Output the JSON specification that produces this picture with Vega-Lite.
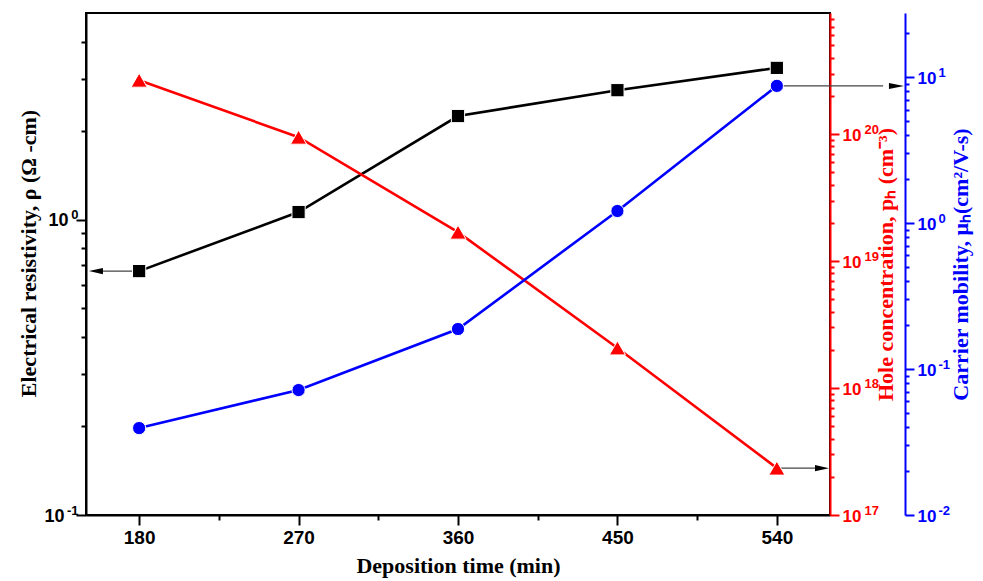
{
  "$schema": "https://vega.github.io/schema/vega-lite/v6.json",
  "width": 744,
  "height": 502,
  "autosize": {"type": "none"},
  "padding": {"left": 86, "top": 13, "right": 153, "bottom": 66},
  "background": "white",
  "config": {"view": {"stroke": "black", "strokeWidth": 2}},
  "datasets": {
    "black": [
      {"time": 180, "value": 0.669},
      {"time": 270, "value": 1.06},
      {"time": 360, "value": 2.24},
      {"time": 450, "value": 2.74},
      {"time": 540, "value": 3.26}
    ],
    "red": [
      {"time": 180, "value": 2.66e20},
      {"time": 270, "value": 9.46e19},
      {"time": 360, "value": 1.69e19},
      {"time": 450, "value": 2.07e18},
      {"time": 540, "value": 2.34e17}
    ],
    "blue": [
      {"time": 180, "value": 0.0394},
      {"time": 270, "value": 0.0718},
      {"time": 360, "value": 0.188},
      {"time": 450, "value": 1.21},
      {"time": 540, "value": 8.71}
    ],
    "arrowBlack": [{"time": 159.6, "time2": 180, "value": 0.669}],
    "headBlack": [{"time": 155.6, "value": 0.669}],
    "arrowRed": [{"time": 540, "time2": 561.5, "value": 2.34e17}],
    "headRed": [{"time": 565.5, "value": 2.34e17}],
    "arrowBlue": [{"time": 540, "time2": 600, "value": 8.71}],
    "headBlue": [{"time": 607.5, "value": 8.71}]
  },
  "encoding": {
    "x": {
      "field": "time",
      "type": "quantitative",
      "scale": {"domain": [150, 570], "nice": false, "zero": false},
      "axis": {
        "values": [180, 225, 270, 315, 360, 405, 450, 495, 540],
        "labelExpr": "datum.value % 90 == 0 ? datum.label : ''",
        "tickSize": {"condition": {"test": "datum.value % 90 == 0", "value": 10}, "value": 5},
        "tickWidth": 2,
        "tickColor": "black",
        "domainColor": "black",
        "domainWidth": 2,
        "grid": false,
        "labelFont": "Liberation Sans",
        "labelFontWeight": "bold",
        "labelFontSize": 19,
        "labelColor": "black",
        "labelPadding": 3,
        "title": "Deposition time (min)",
        "titleFont": "Liberation Serif",
        "titleFontSize": 22,
        "titleFontWeight": "bold",
        "titleColor": "black",
        "titlePadding": 8
      }
    }
  },
  "layer": [
    {
      "encoding": {
        "y": {
          "field": "value",
          "type": "quantitative",
          "scale": {"type": "log", "domain": [0.1, 5], "nice": false},
          "axis": {
            "orient": "left",
            "values": [0.1, 0.2, 0.3, 0.4, 0.5, 0.6, 0.7, 0.8, 0.9, 1, 2, 3, 4],
            "labelExpr": "datum.value == 1 || datum.value == 0.1 ? '10' : ''",
            "tickSize": {"condition": {"test": "datum.value == 1 || datum.value == 0.1", "value": 10}, "value": 5},
            "tickWidth": 2,
            "tickColor": "black",
            "domainColor": "black",
            "domainWidth": 2,
            "grid": false,
            "labelFont": "Liberation Sans",
            "labelFontWeight": "bold",
            "labelFontSize": 18,
            "labelColor": "black",
            "labelPadding": {"condition": {"test": "datum.value == 1", "value": 8}, "value": 12},
            "labelOffset": 1,
            "title": "Electrical resistivity, ρ (Ω -cm)",
            "titleFont": "Liberation Serif",
            "titleFontSize": 22,
            "titleFontWeight": "bold",
            "titleColor": "black",
            "titlePadding": 3,
            "titleY": 240
          }
        }
      },
      "layer": [
        {"data": {"name": "arrowBlack"}, "mark": {"type": "rule", "color": "#444444", "strokeWidth": 1.2}, "encoding": {"x2": {"field": "time2"}}},
        {"data": {"name": "headBlack"}, "mark": {"type": "point", "shape": "M-1,0L1,-0.45L1,0.45Z", "filled": true, "fill": "black", "strokeWidth": 0, "size": 196, "opacity": 1}},
        {"data": {"name": "black"}, "mark": {"type": "line", "color": "black", "strokeWidth": 2.6}, "encoding": {}},
        {"data": {"name": "black"}, "mark": {"type": "point", "shape": "square", "filled": true, "fill": "black", "stroke": "white", "strokeWidth": 1, "size": 175, "opacity": 1}}
      ]
    },
    {
      "encoding": {
        "y": {
          "field": "value",
          "type": "quantitative",
          "scale": {"type": "log", "domain": [1e17, 9e20], "nice": false},
          "axis": {
            "orient": "right",
            "values": [1e17, 2e17, 3e17, 4e17, 5e17, 6e17, 7e17, 8e17, 9e17, 1e18, 2e18, 3e18, 4e18, 5e18, 6e18, 7e18, 8e18, 9e18, 1e19, 2e19, 3e19, 4e19, 5e19, 6e19, 7e19, 8e19, 9e19, 1e20, 2e20, 3e20, 4e20, 5e20, 6e20, 7e20, 8e20],
            "labelExpr": "datum.value == 1e17 || datum.value == 1e18 || datum.value == 1e19 || datum.value == 1e20 ? '10' : ''",
            "tickSize": {"condition": {"test": "datum.value == 1e17 || datum.value == 1e18 || datum.value == 1e19 || datum.value == 1e20", "value": 9}, "value": 4},
            "tickWidth": 2,
            "tickColor": "#ff0000",
            "domainColor": "#ff0000",
            "domainWidth": 2,
            "grid": false,
            "labelFont": "Liberation Sans",
            "labelFontWeight": "bold",
            "labelFontSize": 17,
            "labelColor": "#ff0000",
            "labelPadding": 3,
            "labelOffset": 1,
            "title": "Hole concentration, pₕ (cm⁻³)",
            "titleFont": "Liberation Serif",
            "titleFontSize": 22,
            "titleFontWeight": "bold",
            "titleColor": "#ff0000",
            "titleAngle": 270,
            "titleBaseline": "top",
            "titlePadding": 15
          }
        }
      },
      "layer": [
        {"data": {"name": "arrowRed"}, "mark": {"type": "rule", "color": "#444444", "strokeWidth": 1.2}, "encoding": {"x2": {"field": "time2"}}},
        {"data": {"name": "headRed"}, "mark": {"type": "point", "shape": "M1,0L-1,-0.45L-1,0.45Z", "filled": true, "fill": "black", "strokeWidth": 0, "size": 196, "opacity": 1}},
        {"data": {"name": "red"}, "mark": {"type": "line", "color": "#ff0000", "strokeWidth": 2.6}, "encoding": {}},
        {"data": {"name": "red"}, "mark": {"type": "point", "shape": "triangle-up", "filled": true, "fill": "#ff0000", "stroke": "white", "strokeWidth": 1, "size": 260, "opacity": 1}}
      ]
    },
    {
      "encoding": {
        "y": {
          "field": "value",
          "type": "quantitative",
          "scale": {"type": "log", "domain": [0.01, 27.5], "nice": false},
          "axis": {
            "orient": "right",
            "offset": 75,
            "values": [0.01, 0.02, 0.03, 0.04, 0.05, 0.06, 0.07, 0.08, 0.09, 0.1, 0.2, 0.3, 0.4, 0.5, 0.6, 0.7, 0.8, 0.9, 1, 2, 3, 4, 5, 6, 7, 8, 9, 10, 20],
            "labelExpr": "datum.value == 0.01 || datum.value == 0.1 || datum.value == 1 || datum.value == 10 ? '10' : ''",
            "tickSize": {"condition": {"test": "datum.value == 0.01 || datum.value == 0.1 || datum.value == 1 || datum.value == 10", "value": 9}, "value": 4},
            "tickWidth": 2,
            "tickColor": "#0000ff",
            "domainColor": "#0000ff",
            "domainWidth": 2,
            "grid": false,
            "labelFont": "Liberation Sans",
            "labelFontWeight": "bold",
            "labelFontSize": 17,
            "labelColor": "#0000ff",
            "labelPadding": 3,
            "labelOffset": 1,
            "title": "Carrier mobility, μₕ(cm²/V-s)",
            "titleFont": "Liberation Serif",
            "titleFontSize": 22,
            "titleFontWeight": "bold",
            "titleColor": "#0000ff",
            "titleAngle": 270,
            "titleBaseline": "top",
            "titlePadding": 15
          }
        }
      },
      "layer": [
        {"data": {"name": "arrowBlue"}, "mark": {"type": "rule", "color": "#444444", "strokeWidth": 1.2}, "encoding": {"x2": {"field": "time2"}}},
        {"data": {"name": "headBlue"}, "mark": {"type": "point", "shape": "M1,0L-1,-0.4L-1,0.4Z", "filled": true, "fill": "black", "strokeWidth": 0, "size": 225, "opacity": 1}},
        {"data": {"name": "blue"}, "mark": {"type": "line", "color": "#0000ff", "strokeWidth": 2.6}, "encoding": {}},
        {"data": {"name": "blue"}, "mark": {"type": "point", "shape": "circle", "filled": true, "fill": "#0000ff", "stroke": "white", "strokeWidth": 1, "size": 175, "opacity": 1}}
      ]
    },
    {
      "data": {"name": "black"},
      "mark": {"type": "point", "opacity": 0},
      "encoding": {
        "y": {
          "field": "value",
          "type": "quantitative",
          "scale": {"type": "log", "domain": [0.1, 5], "nice": false},
          "axis": {
            "orient": "left",
            "values": [0.1, 1],
            "labelExpr": "datum.value == 1 ? '0' : '-1'",
            "domain": false,
            "ticks": false,
            "grid": false,
            "labelFont": "Liberation Sans",
            "labelFontWeight": "bold",
            "labelFontSize": 13,
            "labelColor": "black",
            "labelPadding": 8,
            "labelOffset": -5,
            "title": null
          }
        }
      }
    },
    {
      "data": {"name": "red"},
      "mark": {"type": "point", "opacity": 0},
      "encoding": {
        "y": {
          "field": "value",
          "type": "quantitative",
          "scale": {"type": "log", "domain": [1e17, 9e20], "nice": false},
          "axis": {
            "orient": "right",
            "values": [1e17, 1e18, 1e19, 1e20],
            "labelExpr": "datum.value == 1e17 ? '17' : datum.value == 1e18 ? '18' : datum.value == 1e19 ? '19' : '20'",
            "domain": false,
            "ticks": false,
            "grid": false,
            "labelFont": "Liberation Sans",
            "labelFontWeight": "bold",
            "labelFontSize": 13,
            "labelColor": "#ff0000",
            "labelPadding": 34,
            "labelOffset": -5,
            "title": null
          }
        }
      }
    },
    {
      "data": {"name": "blue"},
      "mark": {"type": "point", "opacity": 0},
      "encoding": {
        "y": {
          "field": "value",
          "type": "quantitative",
          "scale": {"type": "log", "domain": [0.01, 27.5], "nice": false},
          "axis": {
            "orient": "right",
            "offset": 75,
            "values": [0.01, 0.1, 1, 10],
            "labelExpr": "datum.value == 0.01 ? '-2' : datum.value == 0.1 ? '-1' : datum.value == 1 ? '0' : '1'",
            "domain": false,
            "ticks": false,
            "grid": false,
            "labelFont": "Liberation Sans",
            "labelFontWeight": "bold",
            "labelFontSize": 13,
            "labelColor": "#0000ff",
            "labelPadding": 33,
            "labelOffset": -5,
            "title": null
          }
        }
      }
    }
  ],
  "resolve": {"scale": {"y": "independent"}}
}
